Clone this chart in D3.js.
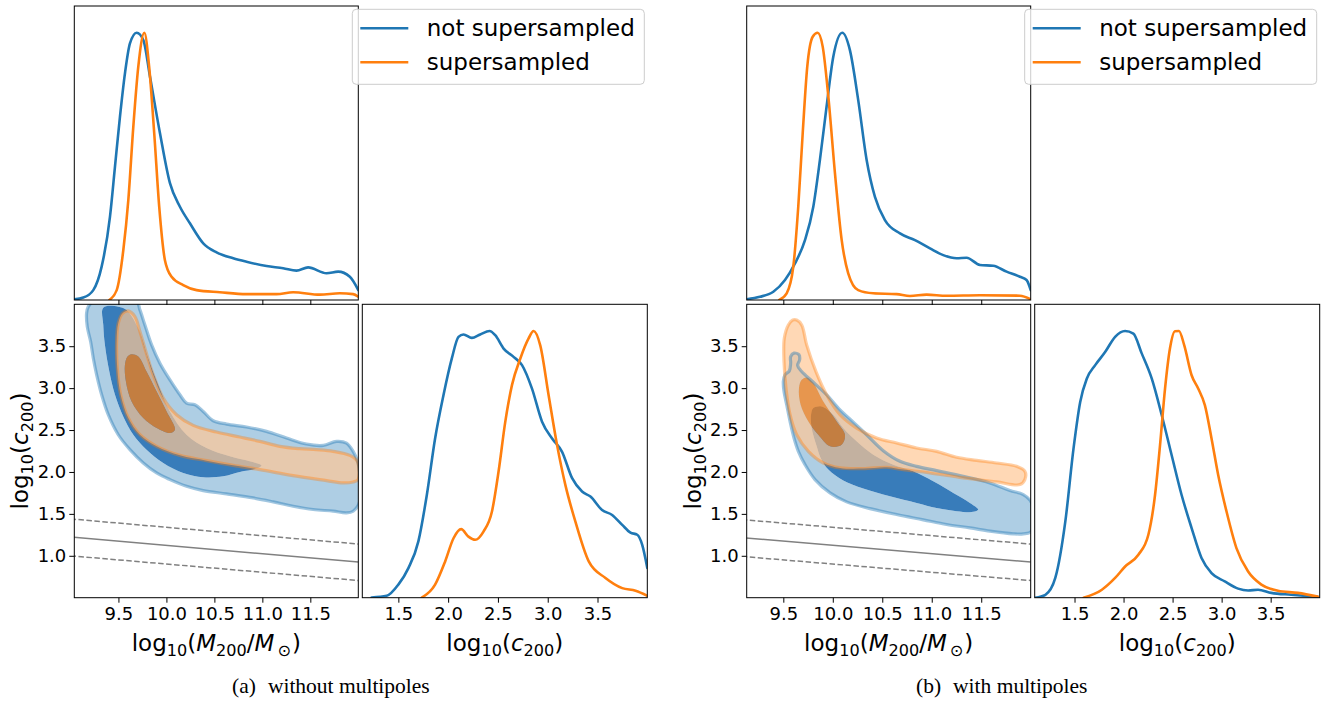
<!DOCTYPE html>
<html><head><meta charset="utf-8">
<script src="https://cdn.jsdelivr.net/npm/d3@7"></script>
<style>
body{margin:0;background:#fff}
svg{display:block}
</style>
</head><body>
<svg id="fig" width="1328" height="704"></svg>
<script>
// ---------- tick values ----------
const massTicks = [9.5, 10.0, 10.5, 11.0, 11.5];
const concTicksY = [1.0, 1.5, 2.0, 2.5, 3.0, 3.5];
const concTicksX = [1.5, 2.0, 2.5, 3.0, 3.5];

// ---------- axis ranges ----------
const massRangeA = [9.04, 12.0];
const massRangeB = [9.13, 12.0];
const concRangeA = [1.138, 4.0];
const concRangeB = [1.094, 4.0];
const concRange2D = [0.5, 4.0];

// ---------- series names ----------
const seriesNames = ["not supersampled", "supersampled"];

// ---------- 1D marginals, (a) without multipoles : [value, normalised density] ----------
const massPdfA_plain = [[9.04,0.003],[9.134,0.009],[9.238,0.037],[9.325,0.125],[9.412,0.312],[9.464,0.499],[9.516,0.686],[9.568,0.848],[9.62,0.96],[9.69,1.0],[9.759,0.973],[9.829,0.835],[9.933,0.624],[10.037,0.437],[10.141,0.349],[10.245,0.287],[10.384,0.212],[10.523,0.178],[10.696,0.156],[10.835,0.143],[11.044,0.127],[11.217,0.119],[11.356,0.110],[11.477,0.122],[11.669,0.100],[11.79,0.106],[11.912,0.087],[12.0,0.037]];
const massPdfA_super = [[9.405,0],[9.482,0.037],[9.551,0.187],[9.603,0.374],[9.655,0.648],[9.707,0.873],[9.77,1.0],[9.82,0.873],[9.873,0.624],[9.925,0.349],[9.984,0.15],[10.054,0.087],[10.175,0.056],[10.314,0.037],[10.557,0.029],[10.835,0.022],[11.148,0.022],[11.321,0.029],[11.599,0.02],[11.807,0.025],[11.946,0.022],[12.0,0.012]];
const concPdfA_plain = [[1.232,0.001],[1.383,0.007],[1.5,0.049],[1.601,0.111],[1.701,0.211],[1.786,0.385],[1.869,0.597],[1.953,0.759],[2.037,0.897],[2.104,0.978],[2.154,0.987],[2.238,0.974],[2.322,0.987],[2.416,1.0],[2.473,0.984],[2.557,0.934],[2.657,0.903],[2.742,0.872],[2.842,0.784],[2.943,0.66],[3.044,0.597],[3.144,0.547],[3.245,0.448],[3.345,0.398],[3.429,0.379],[3.546,0.329],[3.647,0.31],[3.748,0.273],[3.831,0.244],[3.899,0.236],[3.949,0.198],[4.0,0.111]];
const concPdfA_super = [[1.735,0],[1.869,0.049],[1.97,0.136],[2.054,0.223],[2.131,0.257],[2.204,0.229],[2.272,0.217],[2.355,0.248],[2.44,0.323],[2.506,0.472],[2.574,0.66],[2.641,0.797],[2.725,0.897],[2.808,0.972],[2.858,1.0],[2.925,0.946],[3.009,0.759],[3.094,0.572],[3.177,0.423],[3.278,0.285],[3.412,0.136],[3.58,0.074],[3.748,0.036],[3.882,0.026],[4.0,0.007]];

// ---------- 1D marginals, (b) with multipoles ----------
const massPdfB_plain = [[9.13,0.003],[9.264,0.012],[9.399,0.031],[9.517,0.075],[9.618,0.137],[9.719,0.224],[9.803,0.349],[9.87,0.524],[9.937,0.723],[10.005,0.91],[10.096,1.0],[10.173,0.935],[10.257,0.748],[10.342,0.524],[10.426,0.386],[10.527,0.299],[10.679,0.249],[10.83,0.224],[10.982,0.193],[11.116,0.168],[11.251,0.156],[11.352,0.158],[11.487,0.131],[11.621,0.128],[11.756,0.106],[11.891,0.087],[11.958,0.075],[12.0,0.037]];
const massPdfB_super = [[9.459,0],[9.534,0.025],[9.601,0.125],[9.651,0.349],[9.696,0.624],[9.742,0.873],[9.797,0.985],[9.847,1.0],[9.898,0.948],[9.955,0.761],[10.022,0.474],[10.09,0.224],[10.156,0.1],[10.257,0.037],[10.409,0.025],[10.645,0.022],[10.78,0.015],[10.948,0.02],[11.15,0.016],[11.487,0.018],[11.891,0.016],[12.0,0.003]];
const concPdfB_plain = [[1.1,0],[1.203,0.011],[1.304,0.074],[1.406,0.285],[1.49,0.56],[1.558,0.734],[1.626,0.822],[1.711,0.872],[1.812,0.921],[1.914,0.978],[2.016,1.0],[2.1,0.99],[2.185,0.916],[2.287,0.822],[2.389,0.685],[2.49,0.535],[2.592,0.385],[2.694,0.261],[2.795,0.149],[2.897,0.092],[3.032,0.061],[3.168,0.034],[3.27,0.027],[3.371,0.03],[3.507,0.018],[3.71,0.011],[3.98,0.003]];
const concPdfB_super = [[1.592,0],[1.779,0.03],[1.914,0.074],[2.016,0.117],[2.151,0.161],[2.253,0.236],[2.321,0.385],[2.372,0.572],[2.423,0.784],[2.473,0.934],[2.524,0.999],[2.565,1.0],[2.619,0.946],[2.694,0.834],[2.761,0.784],[2.829,0.722],[2.897,0.597],[2.965,0.46],[3.05,0.323],[3.151,0.186],[3.27,0.098],[3.405,0.049],[3.574,0.026],[3.777,0.018],[3.98,0.004]];

// ---------- 2D credible regions : [log10 M200, log10 c200] ----------
const jointA_plain_outer = [[9.168,3.893],[9.186,3.972],[9.238,4.03],[9.689,4.03],[9.724,3.933],[9.776,3.754],[9.846,3.516],[9.932,3.298],[10.037,3.099],[10.141,2.921],[10.21,2.821],[10.297,2.802],[10.384,2.722],[10.488,2.611],[10.627,2.571],[10.835,2.536],[11.043,2.484],[11.252,2.405],[11.46,2.333],[11.634,2.317],[11.773,2.365],[11.877,2.345],[11.946,2.246],[11.998,2.107],[12.016,1.968],[12.016,1.651],[11.946,1.532],[11.877,1.512],[11.738,1.532],[11.53,1.552],[11.321,1.591],[11.113,1.643],[10.905,1.69],[10.627,1.738],[10.384,1.778],[10.21,1.829],[10.037,1.909],[9.898,1.988],[9.759,2.107],[9.62,2.266],[9.498,2.444],[9.394,2.683],[9.325,2.921],[9.273,3.159],[9.238,3.357],[9.21,3.556],[9.175,3.734]];
const jointA_plain_inner = [[9.342,3.96],[9.498,3.972],[9.585,3.933],[9.707,3.714],[9.811,3.357],[9.915,3.04],[10.037,2.722],[10.21,2.444],[10.419,2.286],[10.662,2.187],[10.87,2.127],[10.991,2.079],[10.939,2.04],[10.766,2.0],[10.592,1.948],[10.384,1.937],[10.175,1.988],[9.967,2.107],[9.793,2.266],[9.655,2.444],[9.55,2.663],[9.464,2.921],[9.405,3.198],[9.359,3.516],[9.342,3.754]];
const jointA_super_outer = [[9.603,3.921],[9.672,3.853],[9.724,3.675],[9.786,3.437],[9.863,3.159],[9.967,2.881],[10.106,2.683],[10.28,2.556],[10.523,2.476],[10.766,2.417],[10.974,2.365],[11.182,2.306],[11.391,2.278],[11.564,2.266],[11.738,2.246],[11.912,2.198],[11.991,2.127],[11.998,1.909],[11.946,1.881],[11.842,1.869],[11.669,1.897],[11.321,1.956],[10.974,2.028],[10.696,2.079],[10.419,2.135],[10.141,2.198],[9.898,2.306],[9.724,2.444],[9.603,2.643],[9.523,2.921],[9.488,3.238],[9.481,3.556],[9.498,3.774],[9.543,3.893]];
const jointA_super_inner = [[9.637,3.405],[9.707,3.377],[9.793,3.198],[9.898,2.96],[10.002,2.722],[10.089,2.504],[10.037,2.464],[9.898,2.524],[9.759,2.643],[9.637,2.841],[9.578,3.079],[9.568,3.278],[9.595,3.377]];

const jointB_plain_outer = [[9.50,3.079],[9.517,3.159],[9.561,3.206],[9.574,3.298],[9.574,3.377],[9.608,3.417],[9.659,3.397],[9.665,3.337],[9.645,3.27],[9.686,3.198],[9.803,3.071],[9.938,2.921],[10.073,2.742],[10.207,2.595],[10.342,2.444],[10.51,2.254],[10.679,2.127],[10.847,2.067],[11.049,2.016],[11.318,1.948],[11.588,1.869],[11.79,1.778],[11.925,1.73],[12.009,1.631],[12.009,1.294],[11.925,1.262],[11.824,1.262],[11.588,1.294],[11.386,1.333],[11.15,1.373],[10.914,1.429],[10.645,1.492],[10.376,1.563],[10.14,1.643],[9.972,1.75],[9.82,1.909],[9.719,2.087],[9.652,2.246],[9.608,2.405],[9.568,2.603],[9.534,2.802],[9.507,2.96]];
const jointB_plain_inner = [[9.803,2.762],[9.888,2.782],[10.005,2.683],[10.106,2.524],[10.241,2.365],[10.409,2.206],[10.611,2.087],[10.813,2.008],[11.015,1.889],[11.218,1.75],[11.386,1.631],[11.47,1.552],[11.419,1.524],[11.251,1.532],[11.049,1.571],[10.847,1.631],[10.578,1.71],[10.308,1.802],[10.106,1.897],[9.955,2.028],[9.877,2.167],[9.837,2.306],[9.786,2.524],[9.78,2.683]];
const jointB_super_outer = [[9.635,3.813],[9.686,3.754],[9.736,3.516],[9.83,3.198],[9.938,2.921],[10.073,2.683],[10.241,2.524],[10.443,2.405],[10.645,2.345],[10.847,2.286],[11.049,2.246],[11.251,2.175],[11.453,2.139],[11.655,2.107],[11.857,2.067],[11.941,2.008],[11.941,1.909],[11.891,1.849],[11.655,1.881],[11.318,1.929],[10.981,1.988],[10.712,2.028],[10.544,2.056],[10.308,2.04],[10.073,2.048],[9.904,2.107],[9.753,2.246],[9.635,2.444],[9.568,2.683],[9.527,3.0],[9.507,3.317],[9.51,3.595],[9.551,3.754],[9.595,3.813]];
const jointB_super_inner = [[9.736,3.127],[9.803,3.06],[9.904,2.841],[10.039,2.603],[10.123,2.444],[10.089,2.325],[9.972,2.306],[9.854,2.444],[9.753,2.603],[9.675,2.802],[9.658,3.0],[9.686,3.099]];

// ---------- concentration–mass relation (median and scatter) ----------
const relMass = [9.0, 12.0];
const relMedian = [1.225, 0.925];
const relUpper = [1.44, 1.14];
const relLower = [1.0, 0.705];

// ---------- drawing ----------
const BLUE = "#1f77b4", ORANGE = "#ff7f0e";
const SANS = "'DejaVu Sans', sans-serif";
const fig = d3.select("#fig");
const defs = fig.append("defs");

function addClip(id, b) {
  defs.append("clipPath").attr("id", id).append("rect")
    .attr("x", b.x0).attr("y", b.y0).attr("width", b.x1 - b.x0).attr("height", b.y1 - b.y0);
}
function border(b) {
  fig.append("rect").attr("x", b.x0).attr("y", b.y0)
    .attr("width", b.x1 - b.x0).attr("height", b.y1 - b.y0)
    .attr("fill", "none").attr("stroke", "#000").attr("stroke-width", 1);
}
function styleAxis(g) {
  g.select(".domain").remove();
  g.selectAll("line").attr("stroke", "#000").attr("stroke-width", 1);
  g.selectAll("text").attr("font-size", 18).attr("font-family", SANS).attr("fill", "#000");
}
function bottomAxis(b, x, ticks, labels) {
  const ax = d3.axisBottom(x).tickValues(ticks).tickSizeInner(5).tickSizeOuter(0).tickPadding(5)
    .tickFormat(labels ? d3.format(".1f") : () => "");
  fig.append("g").attr("transform", `translate(0,${b.y1})`).call(ax).call(styleAxis);
}
function leftAxis(b, y, ticks) {
  const ax = d3.axisLeft(y).tickValues(ticks).tickSizeInner(5).tickSizeOuter(0).tickPadding(3)
    .tickFormat(d3.format(".1f"));
  fig.append("g").attr("transform", `translate(${b.x0},0)`).call(ax).call(styleAxis);
}

function marginal(id, b, dom, series, labels) {
  const x = d3.scaleLinear().domain(dom).range([b.x0, b.x1]);
  const y = d3.scaleLinear().domain([0, 1.1]).range([b.y1, b.y0]);
  addClip(id, b);
  const line = d3.line().x(d => x(d[0])).y(d => y(d[1])).curve(d3.curveMonotoneX);
  const g = fig.append("g").attr("clip-path", `url(#${id})`);
  series.forEach(s => g.append("path").attr("d", line(s.data))
    .attr("fill", "none").attr("stroke", s.color).attr("stroke-width", 2.6)
    .attr("stroke-linejoin", "round").attr("stroke-linecap", "round"));
  bottomAxis(b, x, labels ? concTicksX : massTicks, labels);
  border(b);
}

function joint(id, b, xDom, chains) {
  const x = d3.scaleLinear().domain(xDom).range([b.x0, b.x1]);
  const y = d3.scaleLinear().domain(concRange2D).range([b.y1, b.y0]);
  addClip(id, b);
  const g = fig.append("g").attr("clip-path", `url(#${id})`);
  const ring = d3.line().x(d => x(d[0])).y(d => y(d[1])).curve(d3.curveCatmullRomClosed.alpha(0.5));

  // filled 68% / 95% regions for each chain
  chains.forEach(c => {
    g.append("path").attr("d", ring(c.outer) + ring(c.inner))
      .attr("fill-rule", "evenodd").attr("fill", c.band).attr("fill-opacity", c.bandOpacity);
    g.append("path").attr("d", ring(c.inner))
      .attr("fill", c.core).attr("fill-opacity", c.coreOpacity);
  });
  // 95% outlines on top
  chains.forEach(c => {
    g.append("path").attr("d", ring(c.outer))
      .attr("fill", "none").attr("stroke", c.edge).attr("stroke-opacity", c.edgeOpacity)
      .attr("stroke-width", 3.2).attr("stroke-linejoin", "round");
  });

  const rel = d3.line().x(d => x(d[0])).y(d => y(d[1]));
  const zipRel = vals => relMass.map((m, i) => [m, vals[i]]);
  g.append("path").attr("d", rel(zipRel(relMedian))).attr("fill", "none")
    .attr("stroke", "#808080").attr("stroke-width", 1.5);
  [relUpper, relLower].forEach(v => g.append("path").attr("d", rel(zipRel(v))).attr("fill", "none")
    .attr("stroke", "#808080").attr("stroke-width", 1.5).attr("stroke-dasharray", "5.5,2.5"));

  bottomAxis(b, x, massTicks, true);
  leftAxis(b, y, concTicksY);
  border(b);
}

function mathText(sel, parts, size) {
  const sub = Math.round(size * 0.7 * 10) / 10, shift = size * 0.22;
  let down = false;
  parts.forEach(p => {
    const t = sel.append("tspan").text(p.t);
    if (p.sub) { t.attr("font-size", sub); if (!down) { t.attr("dy", shift); down = true; } }
    else { t.attr("font-size", size); if (down) { t.attr("dy", -shift); down = false; } }
    if (p.it) t.attr("font-style", "italic");
    if (p.dx) t.attr("dx", p.dx);
  });
}
const massLabel = [{t:"log"},{t:"10",sub:true},{t:"("},{t:"M",it:true},{t:"200",sub:true},{t:"/"},{t:"M",it:true},{t:"\u2299",sub:true,dx:3},{t:")",dx:1}];
const concLabel = [{t:"log"},{t:"10",sub:true},{t:"("},{t:"c",it:true},{t:"200",sub:true},{t:")"}];

function xLabel(cx, yb, parts) {
  const t = fig.append("text").attr("x", cx).attr("y", yb).attr("text-anchor", "middle")
    .attr("font-family", SANS).attr("fill", "#000");
  mathText(t, parts, 23);
}
function yLabel(xb, cy, parts) {
  const t = fig.append("text").attr("transform", `translate(${xb},${cy}) rotate(-90)`)
    .attr("text-anchor", "middle").attr("font-family", SANS).attr("fill", "#000");
  mathText(t, parts, 23);
}

function legend(x0, y0) {
  const g = fig.append("g");
  g.append("rect").attr("x", x0).attr("y", y0).attr("width", 292).attr("height", 75)
    .attr("rx", 4).attr("fill", "#fff").attr("fill-opacity", 0.8)
    .attr("stroke", "#cccccc").attr("stroke-width", 1);
  [BLUE, ORANGE].forEach((c, i) => {
    const yy = y0 + 19 + i * 34;
    g.append("line").attr("x1", x0 + 8).attr("x2", x0 + 56).attr("y1", yy).attr("y2", yy)
      .attr("stroke", c).attr("stroke-width", 2.6);
    g.append("text").attr("x", x0 + 74.5).attr("y", yy + 8).attr("font-size", 23)
      .attr("font-family", SANS).attr("fill", "#000").text(seriesNames[i]);
  });
}

const chainStyles = (plainOuter, plainInner, superOuter, superInner) => [
  {outer: plainOuter, inner: plainInner, band: BLUE, bandOpacity: 0.36, core: "rgb(56,124,186)", coreOpacity: 1, edge: BLUE, edgeOpacity: 0.42},
  {outer: superOuter, inner: superInner, band: "rgb(255,200,150)", bandOpacity: 0.7, core: ORANGE, coreOpacity: 0.7, edge: ORANGE, edgeOpacity: 0.38}
];

// panel layouts
const panels = [
  {key: "a", dx: 0, massDom: massRangeA, concDom: concRangeA,
   mass: [massPdfA_plain, massPdfA_super], conc: [concPdfA_plain, concPdfA_super],
   chains: chainStyles(jointA_plain_outer, jointA_plain_inner, jointA_super_outer, jointA_super_inner),
   caption: "(a)", captionText: "without multipoles", capX: 232},
  {key: "b", dx: 672.4, massDom: massRangeB, concDom: concRangeB,
   mass: [massPdfB_plain, massPdfB_super], conc: [concPdfB_plain, concPdfB_super],
   chains: chainStyles(jointB_plain_outer, jointB_plain_inner, jointB_super_outer, jointB_super_inner),
   caption: "(b)", captionText: "with multipoles", capX: 916}
];

panels.forEach(p => {
  const L = 74.3 + p.dx, R = 358.3 + p.dx;
  const top = {x0: L, x1: R, y0: 6, y1: 300};
  const mid = {x0: L, x1: R, y0: 304.3, y1: 597.7};
  const side = {x0: R + 4, x1: R + 289, y0: 304.3, y1: 597.7};

  marginal("clip-top-" + p.key, top, p.massDom,
    [{data: p.mass[0], color: BLUE}, {data: p.mass[1], color: ORANGE}], false);
  joint("clip-joint-" + p.key, mid, p.massDom, p.chains);
  marginal("clip-side-" + p.key, side, p.concDom,
    [{data: p.conc[0], color: BLUE}, {data: p.conc[1], color: ORANGE}], true);

  xLabel((mid.x0 + mid.x1) / 2, 651, massLabel);
  xLabel((side.x0 + side.x1) / 2, 651, concLabel);
  yLabel(L - 46, (mid.y0 + mid.y1) / 2, concLabel);
  legend(R - 6, 9.3);

  const cap = fig.append("text").attr("x", p.capX).attr("y", 692.5)
    .attr("font-family", "'Liberation Serif', 'Times New Roman', serif").attr("font-size", 21.5).attr("fill", "#000");
  cap.append("tspan").text(p.caption);
  cap.append("tspan").attr("dx", 12).text(p.captionText);
});
</script>
</body></html>
